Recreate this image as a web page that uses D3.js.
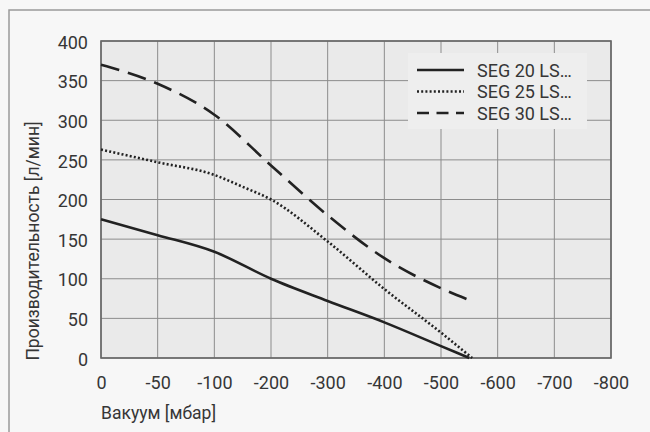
<!DOCTYPE html>
<html>
<head>
<meta charset="utf-8">
<script src="https://cdn.jsdelivr.net/npm/d3@7"></script>
<style>
  html, body { margin: 0; padding: 0; background: #f7f7f7; }
  svg { display: block; }
  text { font-family: Roboto, "Open Sans", sans-serif; fill: #363636; }
</style>
</head>
<body>
<script>
// ---- data ----
const xTicks = [0, -50, -100, -200, -300, -400, -500, -600, -700, -800];
const yTicks = [0, 50, 100, 150, 200, 250, 300, 350, 400];

const seg20Vacuum = [0, -50, -100, -200, -300, -400, -500, -550];
const seg20Flow   = [175, 155, 134, 100, 72, 45, 15, 0];

const seg25Vacuum = [0, -50, -100, -150, -200, -300, -400, -500, -555];
const seg25Flow   = [263, 247, 231, 216, 200, 147, 87, 32, 0];

const seg30Vacuum = [0, -50, -100, -200, -300, -400, -500, -550];
const seg30Flow   = [370, 346, 307, 243, 180, 126, 88, 73];

const seriesNames = ["SEG 20 LS…", "SEG 25 LS…", "SEG 30 LS…"];
const xTitle = "Вакуум [мбар]";
const yTitle = "Производительность [л/мин]";

(function () {
// ---- layout ----
const W = 650, H = 432;
const pLeft = 101, pRight = 611, pTop = 41, pBottom = 358;

const svg = d3.select("body").append("svg").attr("width", W).attr("height", H);

// outer frame
svg.append("rect").attr("x", 9).attr("y", 10).attr("width", W + 20).attr("height", H + 20)
  .attr("fill", "#f7f7f7").attr("stroke", "#9a9a9a").attr("stroke-width", 1.5);

const step = (pRight - pLeft) / (xTicks.length - 1);
const x = d3.scaleLinear().domain(xTicks).range(xTicks.map((d, i) => pLeft + i * step));
const y = d3.scaleLinear().domain([0, 400]).range([pBottom, pTop]);

// plot background
svg.append("rect").attr("x", pLeft).attr("y", pTop).attr("width", pRight - pLeft).attr("height", pBottom - pTop)
  .attr("fill", "#eaeaea");

// grid
const g = svg.append("g");
g.selectAll("line.v").data(xTicks).join("line")
  .attr("x1", d => x(d)).attr("x2", d => x(d)).attr("y1", pTop).attr("y2", pBottom)
  .attr("stroke", "#8c8c8c").attr("stroke-width", 1);
g.selectAll("line.h").data(yTicks).join("line")
  .attr("y1", d => y(d)).attr("y2", d => y(d)).attr("x1", pLeft).attr("x2", pRight)
  .attr("stroke", "#8c8c8c").attr("stroke-width", 1);

// legend box (covers grid)
svg.append("rect").attr("x", 408).attr("y", 53).attr("width", 179).attr("height", 76)
  .attr("fill", "#eeeeee");

// plot border
svg.append("rect").attr("x", pLeft).attr("y", pTop).attr("width", pRight - pLeft).attr("height", pBottom - pTop)
  .attr("fill", "none").attr("stroke", "#666").attr("stroke-width", 1.6);

// axes labels via d3 axes
const xAxis = svg.append("g").attr("transform", `translate(0,${pBottom})`)
  .call(d3.axisBottom(x).tickValues(xTicks).tickFormat(d => String(d)).tickSize(0).tickPadding(18));
xAxis.select(".domain").remove();
xAxis.selectAll("text").attr("font-size", 18).attr("fill", "#363636")
  .style("font-family", 'Roboto, sans-serif');

const yAxis = svg.append("g").attr("transform", `translate(${pLeft},0)`)
  .call(d3.axisLeft(y).tickValues(yTicks).tickSize(0).tickPadding(13));
yAxis.select(".domain").remove();
yAxis.selectAll("text").attr("font-size", 18).attr("fill", "#363636").attr("dy", "0.4em")
  .style("font-family", 'Roboto, sans-serif');

// titles
svg.append("text").attr("x", 101).attr("y", 419).attr("font-size", 17.5).text(xTitle);
svg.append("text").attr("transform", "translate(39,241) rotate(-90)").attr("text-anchor", "middle")
  .attr("font-size", 17.5).text(yTitle);

// lines
const line = d3.line().x(d => x(d[0])).y(d => y(d[1])).curve(d3.curveMonotoneX);
const series = [
  { vac: seg20Vacuum, flow: seg20Flow, dash: null, legDash: null },
  { vac: seg25Vacuum, flow: seg25Flow, dash: "2,2.2", legDash: "2,2.2" },
  { vac: seg30Vacuum, flow: seg30Flow, dash: "19,9", legDash: "12,7.5" }
];
series.forEach(s => {
  svg.append("path").datum(s.vac.map((v, i) => [v, s.flow[i]]))
    .attr("d", line).attr("fill", "none").attr("stroke", "#222")
    .attr("stroke-width", 2.6).attr("stroke-dasharray", s.dash);
});

// legend
const legY = [70, 91.5, 113];
series.forEach((s, i) => {
  svg.append("line").attr("x1", 417).attr("x2", 464).attr("y1", legY[i]).attr("y2", legY[i])
    .attr("stroke", "#222").attr("stroke-width", 2.6).attr("stroke-dasharray", s.legDash);
  svg.append("text").attr("x", 477).attr("y", legY[i] + 6.5).attr("font-size", 18).text(seriesNames[i]);
});
})();
</script>
</body>
</html>
